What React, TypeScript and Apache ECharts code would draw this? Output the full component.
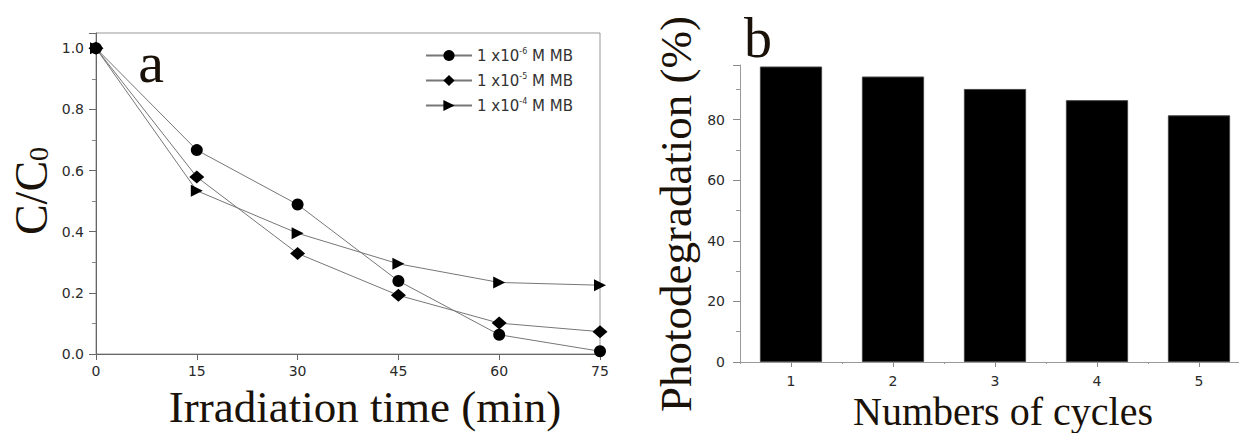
import React, { useEffect, useRef } from "react";
import * as echarts from "echarts";

// Panel (a): relative concentration C/C0 versus irradiation time
const times = [0, 15, 30, 45, 60, 75];
const conc1e6 = [1.0, 0.667, 0.489, 0.239, 0.063, 0.009];
const conc1e5 = [1.0, 0.579, 0.329, 0.192, 0.101, 0.073];
const conc1e4 = [1.0, 0.534, 0.395, 0.295, 0.234, 0.225];
const seriesNames = ["1 x10-6 M MB", "1 x10-5 M MB", "1 x10-4 M MB"];
const exponents = ["-6", "-5", "-4"];
const symbols = ["circle", "diamond", "triangle"];

// Panel (b): photodegradation over repeated cycles
const cycles = ["1", "2", "3", "4", "5"];
const photodegradation = [97.5, 94.2, 90.1, 86.4, 81.4];

const SERIF = "'Liberation Serif', 'Times New Roman', serif";
const SANS = "'DejaVu Sans', Arial, sans-serif";
const INK = "#1a1208";

export default function App() {
  const ref = useRef<HTMLDivElement>(null);

  useEffect(() => {
    if (!ref.current) return;
    const chart = echarts.init(ref.current, undefined, { renderer: "svg" });

    const concSeries = [conc1e6, conc1e5, conc1e4];
    const lineSeries = concSeries.map((vals, i) => ({
      name: seriesNames[i],
      type: "line",
      xAxisIndex: 0,
      yAxisIndex: 0,
      data: times.map((t, k) => [t, vals[k]]),
      symbol: symbols[i],
      symbolSize: i === 1 ? [15, 13] : 12,
      symbolRotate: i === 2 ? -90 : 0,
      itemStyle: { color: "#000" },
      lineStyle: { color: "#777", width: 1 },
      clip: false,
      z: 3,
    }));

    const axisLabelBase = { color: "#2a2a2a", fontFamily: SANS, fontSize: 14 };

    chart.setOption({
      animation: false,
      backgroundColor: "#fff",
      legend: {
        orient: "vertical",
        left: 420,
        top: 42,
        itemWidth: 46,
        itemHeight: 14,
        itemGap: 9,
        selectedMode: false,
        data: seriesNames,
        formatter: (name: string) => {
          const i = seriesNames.indexOf(name);
          return `{n|1 x10}{s|${exponents[i]}}{n| M MB}`;
        },
        textStyle: {
          color: "#333",
          fontFamily: SANS,
          fontSize: 15,
          rich: {
            n: { fontFamily: SANS, fontSize: 15, color: "#333" },
            s: { fontFamily: SANS, fontSize: 8, color: "#333", padding: [0, 0, 9, 0] },
          },
        },
      },
      grid: [
        {
          left: 96,
          top: 33,
          width: 504,
          height: 321,
          show: true,
          borderColor: "#999",
          borderWidth: 1,
        },
        {
          left: 740,
          top: 65,
          width: 510,
          height: 297,
        },
      ],
      xAxis: [
        {
          type: "value",
          gridIndex: 0,
          min: 0,
          max: 75,
          interval: 15,
          splitLine: { show: false },
          axisLine: { lineStyle: { color: "#666" } },
          axisTick: { show: true, inside: false, length: 6, lineStyle: { color: "#666" } },
          axisLabel: { ...axisLabelBase, margin: 10 },
        },
        {
          type: "category",
          gridIndex: 1,
          position: "bottom",
          data: cycles,
          axisLine: { lineStyle: { color: "#999" } },
          axisTick: { show: true, alignWithLabel: true, length: 5, lineStyle: { color: "#888" } },
          axisLabel: { ...axisLabelBase, margin: 12 },
        },
        {
          // boundary ticks between the cycles
          type: "category",
          gridIndex: 1,
          position: "bottom",
          offset: 0,
          data: cycles,
          axisLine: { show: false },
          axisTick: { show: true, alignWithLabel: false, length: 2, lineStyle: { color: "#999" } },
          axisLabel: { show: false },
        },
      ],
      yAxis: [
        {
          type: "value",
          gridIndex: 0,
          min: 0,
          max: 1.05,
          interval: 0.2,
          splitLine: { show: false },
          axisLine: { show: true, lineStyle: { color: "#666" } },
          axisTick: { show: true, length: 7, lineStyle: { color: "#666" } },
          minorTick: { show: true, splitNumber: 2, length: 4, lineStyle: { color: "#888" } },
          axisLabel: {
            ...axisLabelBase,
            margin: 12,
            showMaxLabel: false,
            formatter: (v: number) => v.toFixed(1),
          },
        },
        {
          type: "value",
          gridIndex: 1,
          min: 0,
          max: 98,
          interval: 20,
          splitLine: { show: false },
          axisLine: { show: true, lineStyle: { color: "#999" } },
          axisTick: { show: true, length: 7, lineStyle: { color: "#888" } },
          minorTick: { show: true, splitNumber: 2, length: 4, lineStyle: { color: "#999" } },
          axisLabel: { ...axisLabelBase, margin: 15, showMaxLabel: false },
        },
      ],
      series: [
        ...lineSeries,
        {
          name: "Photodegradation",
          type: "bar",
          xAxisIndex: 1,
          yAxisIndex: 1,
          data: photodegradation,
          barCategoryGap: "39%",
          itemStyle: { color: "#000", borderColor: "#444", borderWidth: 1 },
        },
      ],
      graphic: [
        {
          type: "text",
          x: 31,
          y: 191,
          rotation: Math.PI / 2,
          style: {
            text: "{m|C/C}{s|0}",
            align: "center",
            verticalAlign: "middle",
            fill: INK,
            rich: {
              m: { fontFamily: SERIF, fontSize: 46, fill: INK },
              s: { fontFamily: SERIF, fontSize: 28, fill: INK, padding: [14, 0, 0, 0] },
            },
          },
        },
        {
          type: "text",
          x: 365,
          y: 407,
          style: {
            text: "Irradiation time (min)",
            align: "center",
            verticalAlign: "middle",
            fontFamily: SERIF,
            fontSize: 45,
            fill: INK,
          },
        },
        {
          type: "text",
          x: 151,
          y: 62,
          style: {
            text: "a",
            align: "center",
            verticalAlign: "middle",
            fontFamily: SERIF,
            fontSize: 58,
            fill: INK,
          },
        },
        {
          type: "text",
          x: 676,
          y: 214,
          rotation: Math.PI / 2,
          style: {
            text: "Photodegradation (%)",
            align: "center",
            verticalAlign: "middle",
            fontFamily: SERIF,
            fontSize: 45,
            fill: INK,
          },
        },
        {
          type: "text",
          x: 1003,
          y: 411,
          style: {
            text: "Numbers of cycles",
            align: "center",
            verticalAlign: "middle",
            fontFamily: SERIF,
            fontSize: 40,
            fill: INK,
          },
        },
        {
          type: "text",
          x: 758,
          y: 38,
          style: {
            text: "b",
            align: "center",
            verticalAlign: "middle",
            fontFamily: SERIF,
            fontSize: 56,
            fill: INK,
          },
        },
      ],
    });

    return () => chart.dispose();
  }, []);

  return (
    <div
      ref={ref}
      style={{ position: "fixed", left: 0, top: 0, width: 1251, height: 433, background: "#fff" }}
    />
  );
}
